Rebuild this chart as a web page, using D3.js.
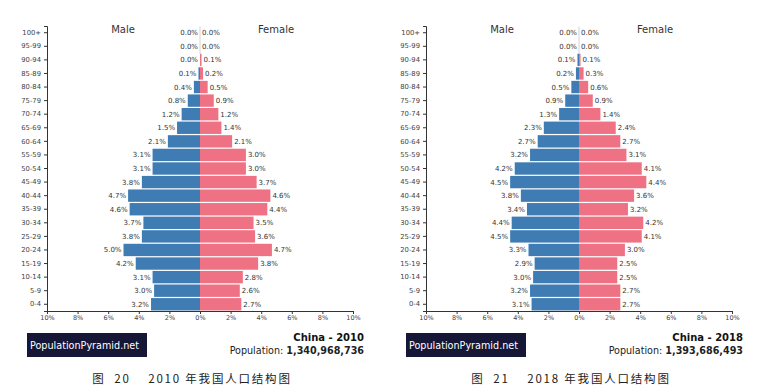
<!DOCTYPE html>
<html><head><meta charset="utf-8">
<script src="https://cdn.jsdelivr.net/npm/d3@7"></script>
<style>body{margin:0;background:#fff}svg{display:block}</style>
</head><body>
<script>
const ages = ["100+","95-99","90-94","85-89","80-84","75-79","70-74","65-69","60-64","55-59","50-54","45-49","40-44","35-39","30-34","25-29","20-24","15-19","10-14","5-9","0-4"];
const male2010 = [0.0,0.0,0.0,0.1,0.4,0.8,1.2,1.5,2.1,3.1,3.1,3.8,4.7,4.6,3.7,3.8,5.0,4.2,3.1,3.0,3.2];
const female2010 = [0.0,0.0,0.1,0.2,0.5,0.9,1.2,1.4,2.1,3.0,3.0,3.7,4.6,4.4,3.5,3.6,4.7,3.8,2.8,2.6,2.7];
const male2018 = [0.0,0.0,0.1,0.2,0.5,0.9,1.3,2.3,2.7,3.2,4.2,4.5,3.8,3.4,4.4,4.5,3.3,2.9,3.0,3.2,3.1];
const female2018 = [0.0,0.0,0.1,0.3,0.6,0.9,1.4,2.4,2.7,3.1,4.1,4.4,3.6,3.2,4.2,4.1,3.0,2.5,2.5,2.7,2.7];
const xTicks = [-10,-8,-6,-4,-2,0,2,4,6,8,10];
const charts = [
  {male: male2010, female: female2010, country: "China - 2010", pop: "1,340,968,736", caption: "图  20    2010 年我国人口结构图", ox: 0},
  {male: male2018, female: female2018, country: "China - 2018", pop: "1,393,686,493", caption: "图  21    2018 年我国人口结构图", ox: 379}
];
const font = "DejaVu Sans, sans-serif";
const svg = d3.select("body").append("svg").attr("width",768).attr("height",391);

charts.forEach(c => {
  const g = svg.append("g").attr("transform",`translate(${c.ox},0)`);
  const x = d3.scaleLinear().domain([-10,10]).range([47,353]);
  const y = d3.scaleBand().domain(ages).range([26,311]).paddingInner(0.09).paddingOuter(0.04);
  g.selectAll(".m").data(c.male).join("rect")
    .attr("x",(d)=>x(-d)).attr("width",(d)=>x(0)-x(-d))
    .attr("y",(d,i)=>y(ages[i])).attr("height",y.bandwidth()).attr("fill","#3f7cb4");
  g.selectAll(".f").data(c.female).join("rect")
    .attr("x",x(0)).attr("width",(d)=>x(d)-x(0))
    .attr("y",(d,i)=>y(ages[i])).attr("height",y.bandwidth()).attr("fill","#ef7184");
  g.append("line").attr("x1",x(0)).attr("x2",x(0)).attr("y1",y(ages[0])).attr("y2",y(ages[2])).attr("stroke","#c8c8c8").attr("stroke-width",0.8);
  g.selectAll(".ml").data(c.male).join("text")
    .attr("x",(d)=>x(-d)-2).attr("y",(d,i)=>y(ages[i])+y.bandwidth()/2+2.5)
    .attr("text-anchor","end").attr("font-family",font).attr("font-size",7).attr("fill","#333")
    .text(d=>d.toFixed(1)+"%");
  g.selectAll(".fl").data(c.female).join("text")
    .attr("x",(d)=>x(d)+2).attr("y",(d,i)=>y(ages[i])+y.bandwidth()/2+2.5)
    .attr("text-anchor","start").attr("font-family",font).attr("font-size",7).attr("fill","#333")
    .text(d=>d.toFixed(1)+"%");
  const xa = g.append("g").attr("transform","translate(0,311)")
    .call(d3.axisBottom(x).tickValues(xTicks).tickSize(3).tickFormat(d=>Math.abs(d)+"%"));
  xa.select(".domain").attr("stroke","#333");
  xa.selectAll("line").attr("stroke","#333");
  xa.selectAll("text").attr("font-family",font).attr("font-size",6.5).attr("fill","#444").attr("dy","0.5em");
  const ya = g.append("g").attr("transform","translate(47,0)")
    .call(d3.axisLeft(y).tickSize(3).tickSizeOuter(3));
  ya.select(".domain").attr("stroke","#333");
  ya.selectAll("line").attr("stroke","#333");
  ya.selectAll("text").attr("font-family",font).attr("font-size",6.8).attr("fill","#444");
  g.append("text").attr("x",123).attr("y",33).attr("text-anchor","middle").attr("font-family",font).attr("font-size",10).attr("fill","#333").text("Male");
  g.append("text").attr("x",276).attr("y",33).attr("text-anchor","middle").attr("font-family",font).attr("font-size",10).attr("fill","#333").text("Female");
  g.append("rect").attr("x",27).attr("y",333).attr("width",120).attr("height",24).attr("fill","#161636");
  g.append("text").attr("x",30).attr("y",349).attr("font-family",font).attr("font-size",10).attr("fill","#fff")
    .attr("textLength",109).attr("lengthAdjust","spacingAndGlyphs").text("PopulationPyramid.net");
  g.append("text").attr("x",364).attr("y",341).attr("text-anchor","end").attr("font-family",font).attr("font-size",10).attr("font-weight","bold").attr("fill","#111").text(c.country);
  const pt = g.append("text").attr("x",364).attr("y",354).attr("text-anchor","end").attr("font-family",font).attr("font-size",9.6).attr("fill","#222");
  pt.append("tspan").text("Population: ");
  pt.append("tspan").attr("font-weight","bold").text(c.pop);
  g.append("text").attr("x",192).attr("y",383).attr("text-anchor","middle").attr("font-family","Noto Sans CJK SC, sans-serif").attr("font-size",11.5).attr("fill","#222").attr("letter-spacing",1.8).style("white-space","pre").text(c.caption);
});
</script>
</body></html>
